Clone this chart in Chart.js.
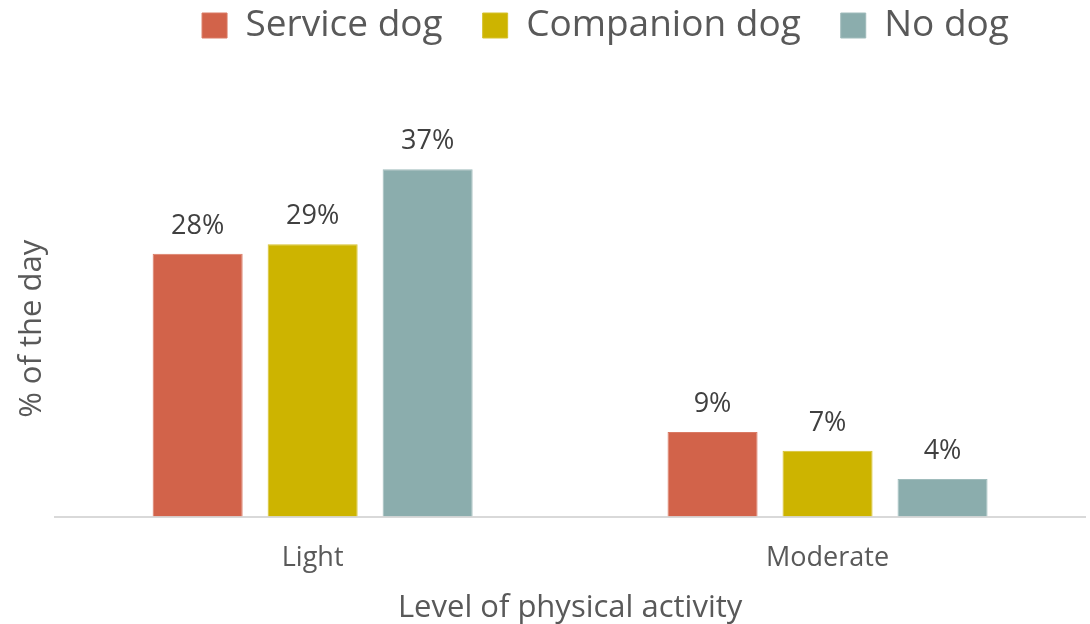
<!DOCTYPE html>
<html>
<head>
<meta charset="utf-8">
<script src="https://cdn.jsdelivr.net/npm/chart.js@4/dist/chart.umd.min.js"></script>
<style>
  html, body { margin: 0; padding: 0; background: #ffffff; }
  #wrap { width: 1090px; height: 624px; }
</style>
</head>
<body>
<div id="wrap"><canvas id="chart" width="1090" height="624"></canvas></div>
<script>
// Share of the day spent at each level of physical activity
const categories = ['Light', 'Moderate'];
const serviceDog = [28, 9];
const companionDog = [29, 7];
const noDog = [37, 4];
const seriesNames = ['Service dog', 'Companion dog', 'No dog'];

const FONT = "'Open Sans', 'Noto Sans', sans-serif";

// Percentage labels drawn above each bar
const barLabels = {
  id: 'barLabels',
  afterDatasetsDraw(chart) {
    const ctx = chart.ctx;
    ctx.save();
    ctx.font = `27px ${FONT}`;
    ctx.fillStyle = '#404040';
    ctx.textAlign = 'center';
    ctx.textBaseline = 'bottom';
    chart.data.datasets.forEach((ds, i) => {
      chart.getDatasetMeta(i).data.forEach((bar, j) => {
        ctx.fillText(ds.data[j] + '%', bar.x, bar.y - 14);
      });
    });
    ctx.restore();
  }
};

// Legend block: fixed height above the plot, row nudged up and right
const legendPlacement = {
  id: 'legendPlacement',
  beforeInit(chart) {
    const fit = chart.legend.fit;
    chart.legend.fit = function () {
      fit.call(this);
      this.height = 141;
    };
  },
  afterLayout(chart) {
    const lg = chart.legend;
    lg.top -= 33;
    lg.bottom -= 33;
    lg.left += 58;
    lg.right += 58;
  }
};

new Chart(document.getElementById('chart'), {
  type: 'bar',
  data: {
    labels: categories,
    datasets: [
      { label: seriesNames[0], data: serviceDog, backgroundColor: '#D2634A', borderColor: '#DA7A64', borderWidth: 1 },
      { label: seriesNames[1], data: companionDog, backgroundColor: '#CDB400', borderColor: '#D6C22E', borderWidth: 1 },
      { label: seriesNames[2], data: noDog, backgroundColor: '#8BADAD', borderColor: '#A0BCBC', borderWidth: 1 }
    ]
  },
  options: {
    responsive: false,
    animation: false,
    layout: { padding: { left: 10, right: 5, top: 0, bottom: 0 } },
    datasets: {
      bar: { categoryPercentage: 0.67, barPercentage: 0.783 }
    },
    plugins: {
      legend: {
        position: 'top',
        labels: {
          font: { family: FONT, size: 37 },
          color: '#595959',
          boxWidth: 25,
          boxHeight: 25,
          padding: 40
        }
      },
      tooltip: { enabled: false }
    },
    scales: {
      x: {
        grid: { display: false, drawTicks: false },
        border: { color: '#D9D9D9', width: 2 },
        ticks: { font: { family: FONT, size: 27 }, color: '#595959', padding: 26 },
        title: {
          display: true,
          text: 'Level of physical activity',
          font: { family: FONT, size: 31, lineHeight: 1.0 },
          color: '#595959',
          padding: { top: -8, bottom: 0 }
        }
      },
      y: {
        min: 0,
        max: 40,
        grid: { display: false, drawTicks: false },
        border: { display: false },
        ticks: { display: false },
        title: {
          display: true,
          text: '% of the day',
          font: { family: FONT, size: 31 },
          color: '#595959',
          padding: { top: 4, bottom: 4 }
        }
      }
    }
  },
  plugins: [barLabels, legendPlacement]
});
</script>
</body>
</html>
